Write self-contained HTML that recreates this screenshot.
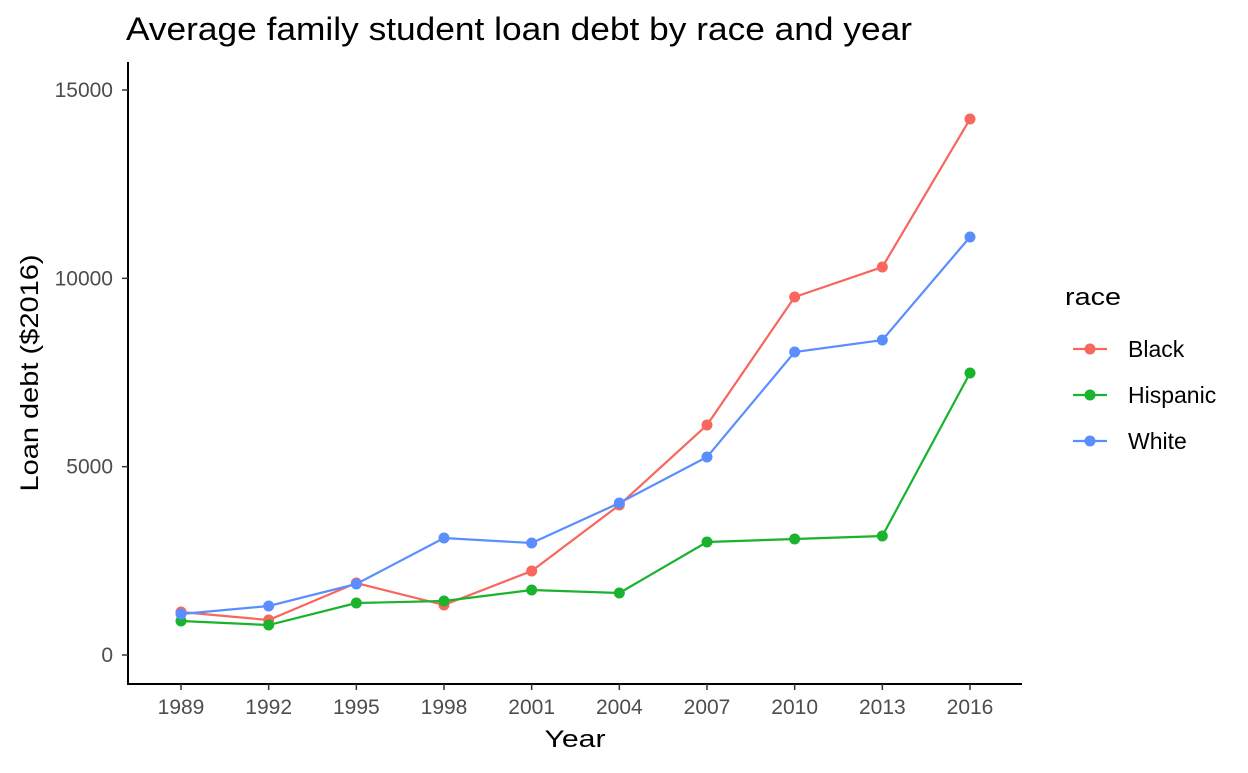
<!DOCTYPE html>
<html><head><meta charset="utf-8"><style>
body{margin:0;background:#fff;font-family:"Liberation Sans",sans-serif}
svg text{font-family:"Liberation Sans",sans-serif}
</style></head><body>
<svg id="chart" width="1248" height="768">
<text x="126" y="40" font-size="32" textLength="786" lengthAdjust="spacingAndGlyphs" fill="#000">Average family student loan debt by race and year</text>
<g id="axes"></g>
<g id="series"></g>
<text x="575" y="747" font-size="24" textLength="61" lengthAdjust="spacingAndGlyphs" text-anchor="middle">Year</text>
<text transform="translate(38,373) rotate(-90)" font-size="25" textLength="237" lengthAdjust="spacingAndGlyphs" text-anchor="middle">Loan debt ($2016)</text>
<g>
<text x="1065" y="305" font-size="24" textLength="56" lengthAdjust="spacingAndGlyphs">race</text>
<g id="legend"></g>
</g>
</svg>
<script>
const years=[1989,1992,1995,1998,2001,2004,2007,2010,2013,2016];
const black=[1141,929,1911,1327,2230,3982,6106,9504,10300,14229];
const hispanic=[903,796,1380,1434,1726,1646,3000,3079,3159,7486];
const white=[1088,1301,1885,3106,2973,4035,5256,8044,8362,11097];
const yTicks=[0,5000,10000,15000];
const seriesNames=["Black","Hispanic","White"];
const NS="http://www.w3.org/2000/svg";
const x=v=>181+(v-1989)*(789/27);
const y=v=>655-v*(565/15000);
function mk(tag,attrs,parent){const e=document.createElementNS(NS,tag);for(const k in attrs)e.setAttribute(k,attrs[k]);parent.appendChild(e);return e;}
const axes=document.getElementById('axes');
let a=mk('line',{x1:128,y1:62,x2:128,y2:685,stroke:'#000','stroke-width':2},axes);

a=mk('line',{x1:127,y1:684,x2:1022,y2:684,stroke:'#000','stroke-width':2},axes);

yTicks.forEach(t=>{
 const l=mk('line',{x1:122,x2:128,y1:y(t),y2:y(t),stroke:'#333','stroke-width':1.5},axes);
 
 const tx=mk('text',{x:113,y:y(t)+7,'font-size':21,'text-anchor':'end',fill:'#4d4d4d'},axes);
 tx.textContent=t;
});
years.forEach(t=>{
 const l=mk('line',{x1:x(t),x2:x(t),y1:684,y2:690,stroke:'#333','stroke-width':1.5},axes);
 
 const tx=mk('text',{x:x(t),y:714,'font-size':21,'text-anchor':'middle',fill:'#4d4d4d'},axes);
 tx.textContent=t;
});
const data=[black,hispanic,white];
const colors=["#F8665D","#1AB32E","#5A8EFF"];
const sg=document.getElementById('series');
data.forEach((d,i)=>{
 const g=mk('g',{},sg);
 
 const p=mk('polyline',{points:d.map((v,j)=>x(years[j])+','+y(v)).join(' '),fill:'none',stroke:colors[i],'stroke-width':2.2},g);
 
 d.forEach((v,j)=>{
  const c=mk('circle',{cx:x(years[j]),cy:y(v),r:5.5,fill:colors[i]},g);
  
  
 });
});
const lg=document.getElementById('legend');
seriesNames.forEach((n,i)=>{
 const cy=349+i*46;
 const g=mk('g',{},lg);
 
 mk('line',{x1:1073,x2:1107,y1:cy,y2:cy,stroke:colors[i],'stroke-width':2.2},g);
 mk('circle',{cx:1090,cy:cy,r:5.5,fill:colors[i]},g);
 const t=mk('text',{x:1128,y:cy+8,'font-size':23,fill:'#000'},g);t.textContent=n;
});
</script>
</body></html>
